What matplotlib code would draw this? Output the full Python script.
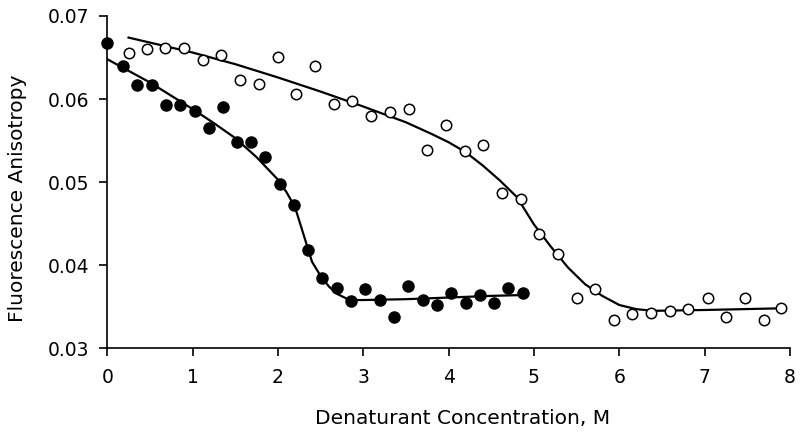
import matplotlib
matplotlib.use("Agg")
import matplotlib.pyplot as plt

# Filled circles (data)
filled_x = [0.00, 0.19, 0.35, 0.52, 0.69, 0.85, 1.03, 1.19, 1.36, 1.52, 1.69, 1.85,
            2.03, 2.19, 2.35, 2.52, 2.69, 2.86, 3.02, 3.20, 3.36, 3.52, 3.70, 3.86,
            4.03, 4.20, 4.37, 4.53, 4.70, 4.87]
filled_y = [0.0667, 0.0640, 0.0617, 0.0617, 0.0593, 0.0593, 0.0586, 0.0565, 0.0590,
            0.0548, 0.0548, 0.0530, 0.0498, 0.0472, 0.0418, 0.0384, 0.0372, 0.0357,
            0.0371, 0.0358, 0.0337, 0.0375, 0.0358, 0.0352, 0.0367, 0.0355, 0.0364,
            0.0355, 0.0372, 0.0367]

# Open circles (data)
open_x = [0.25, 0.47, 0.68, 0.90, 1.12, 1.33, 1.56, 1.78, 2.00, 2.21, 2.44, 2.66,
          2.87, 3.09, 3.31, 3.54, 3.75, 3.97, 4.19, 4.40, 4.63, 4.85, 5.06, 5.28,
          5.50, 5.71, 5.94, 6.15, 6.37, 6.59, 6.81, 7.04, 7.25, 7.47, 7.69, 7.89]
open_y = [0.0655, 0.0660, 0.0661, 0.0661, 0.0647, 0.0653, 0.0623, 0.0618, 0.0651,
          0.0606, 0.0640, 0.0594, 0.0598, 0.0580, 0.0584, 0.0588, 0.0539, 0.0569,
          0.0537, 0.0545, 0.0487, 0.0480, 0.0437, 0.0413, 0.0360, 0.0371, 0.0334,
          0.0341, 0.0342, 0.0345, 0.0347, 0.0360, 0.0337, 0.0361, 0.0334, 0.0348]

# Fitted curves
fit_filled_x = [0.0, 0.25, 0.5, 0.75, 1.0, 1.25, 1.5, 1.75, 2.0, 2.1, 2.2, 2.3, 2.4,
                2.5, 2.6, 2.7, 2.8, 2.9, 3.0, 3.5, 4.0, 4.5, 4.87]
fit_filled_y = [0.0648, 0.0634, 0.0620, 0.0604, 0.0588, 0.0571, 0.0553, 0.0530,
                0.0503, 0.0488, 0.0470, 0.0437, 0.0404, 0.0387, 0.0374, 0.0365,
                0.0360, 0.0358, 0.0358, 0.0359, 0.0361, 0.0363, 0.0364]

fit_open_x = [0.25, 0.5, 1.0, 1.5, 2.0, 2.5, 3.0, 3.5, 3.8, 4.0, 4.2, 4.4, 4.6, 4.8,
              5.0, 5.2, 5.4, 5.6, 5.8, 6.0, 6.2, 6.4, 7.0, 7.89]
fit_open_y = [0.0674, 0.0668, 0.0656, 0.0642, 0.0626, 0.0609, 0.0591, 0.0572, 0.0558,
              0.0548, 0.0536, 0.0520, 0.0502, 0.0482, 0.0449, 0.0422, 0.0397, 0.0377,
              0.0363, 0.0352, 0.0347, 0.0345, 0.0346, 0.0348]

x_ticks = [0, 1, 2, 3, 4, 5, 6, 7, 8]
y_ticks = [0.03, 0.04, 0.05, 0.06, 0.07]

fig = plt.figure(figsize=(8.0, 4.32), dpi=100)
ax = fig.add_axes([0.134, 0.194, 0.8535, 0.769])

ax.plot(fit_filled_x, fit_filled_y, color="black", lw=1.6, zorder=2)
ax.plot(fit_open_x, fit_open_y, color="black", lw=1.6, zorder=2)
ax.plot(filled_x, filled_y, "o", ms=8, mfc="black", mec="black", zorder=3,
        clip_on=False)
ax.plot(open_x, open_y, "o", ms=7.5, mfc="white", mec="black", mew=1.1, zorder=3,
        clip_on=False)

ax.set_xlim(0, 8)
ax.set_ylim(0.03, 0.07)
ax.set_xticks(x_ticks)
ax.set_xticklabels([str(v) for v in x_ticks])
ax.set_yticks(y_ticks)
ax.set_yticklabels([f"{v:.2f}" for v in y_ticks])
for s in ["top", "right"]:
    ax.spines[s].set_visible(False)
for s in ["left", "bottom"]:
    ax.spines[s].set_linewidth(1.2)
ax.tick_params(direction="out", length=6, width=1.2, labelsize=13.5)
ax.tick_params(axis="x", pad=8)
ax.tick_params(axis="y", pad=7)

ax.set_xlabel("Denaturant Concentration, M", fontsize=14.5)
ax.set_ylabel("Fluorescence Anisotropy", fontsize=14.5)
ax.xaxis.set_label_coords(0.52, -0.184)
ax.yaxis.set_label_coords(-0.118, 0.452)

fig.savefig("out.png", dpi=100)
